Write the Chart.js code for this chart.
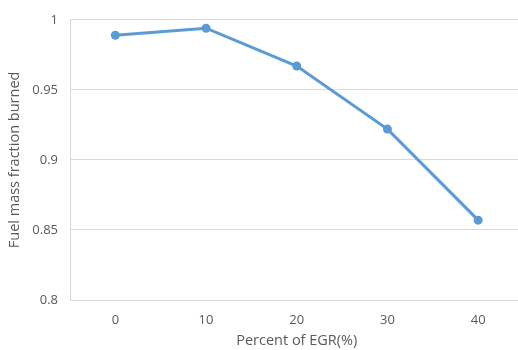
<!DOCTYPE html>
<html>
<head>
<meta charset="utf-8">
<script src="https://cdn.jsdelivr.net/npm/chart.js@4"></script>
<style>
  html, body { margin: 0; padding: 0; background: #fff; overflow: hidden; }
  /* the plot runs a little past the right edge of the page */
  #wrap { width: 528px; height: 350px; }
</style>
</head>
<body>
<div id="wrap"><canvas id="burnChart"></canvas></div>
<script>
// Fuel mass fraction burned vs EGR rate
const egrPercent = ["0", "10", "20", "30", "40"];
const massFractionBurned = [0.989, 0.994, 0.967, 0.922, 0.857];

const textGray = "#595959";
const gridGray = "#D9D9D9";
const lineBlue = "#5B9BD5";

new Chart(document.getElementById("burnChart"), {
  type: "line",
  data: {
    labels: egrPercent,
    datasets: [{
      data: massFractionBurned,
      borderColor: lineBlue,
      backgroundColor: lineBlue,
      borderWidth: 3,
      pointRadius: 4.5,
      pointBackgroundColor: lineBlue,
      pointBorderWidth: 0,
      tension: 0
    }]
  },
  options: {
    responsive: true,
    maintainAspectRatio: false,
    animation: false,
    layout: { padding: { top: 16, right: 0, left: 0, bottom: 0 } },
    plugins: { legend: { display: false }, tooltip: { enabled: false } },
    scales: {
      x: {
        offset: true,
        grid: { display: false, drawTicks: false, offset: true },
        border: { display: true, color: gridGray, width: 1 },
        ticks: { color: textGray, padding: 12, font: { family: "Open Sans", size: 13 } },
        title: {
          display: true,
          text: "Percent of EGR(%)",
          color: textGray,
          padding: { top: 4, bottom: 0 },
          font: { family: "Open Sans", size: 14.5 }
        },
        afterFit: (axis) => { axis.height = 50; }
      },
      y: {
        min: 0.8,
        max: 1,
        ticks: {
          stepSize: 0.05,
          color: textGray,
          padding: 12,
          font: { family: "Open Sans", size: 13 },
          callback: (v) => Number(v.toFixed(2)).toString()
        },
        grid: { color: gridGray, lineWidth: 1, drawTicks: false },
        border: { display: true, color: gridGray, width: 1 },
        title: {
          display: true,
          text: "Fuel mass fraction burned",
          color: textGray,
          padding: { top: 6, bottom: 0 },
          font: { family: "Open Sans", size: 14.5 }
        },
        afterFit: (axis) => { axis.width = 70; }
      }
    }
  }
});
</script>
</body>
</html>
